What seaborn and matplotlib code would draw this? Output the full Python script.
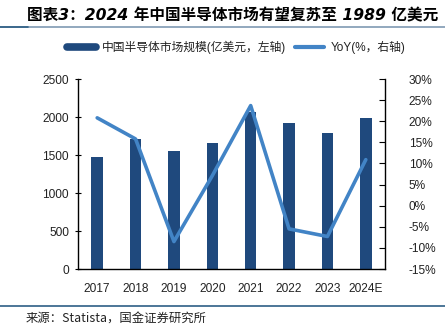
import numpy as np
import pandas as pd
import matplotlib
matplotlib.use("Agg")
import matplotlib.pyplot as plt
from matplotlib.lines import Line2D
from matplotlib.ticker import MultipleLocator, FuncFormatter, FixedLocator
import seaborn as sns

# ---- data ----
years = ["2017", "2018", "2019", "2020", "2021", "2022", "2023", "2024E"]
market_size = [1470, 1715, 1552, 1663, 2060, 1927, 1785, 1989]   # 亿美元
yoy = [20.8, 15.8, -8.5, 7.1, 23.7, -5.5, -7.3, 10.9]            # %

title_text = "图表3：2024 年中国半导体市场有望复苏至 1989 亿美元"
bar_label = "中国半导体市场规模(亿美元，左轴)"
line_label = "YoY(%，右轴)"
source_text = "来源：Statista，国金证券研究所"

# ---- style ----
sns.set_theme(style="white")
plt.rcParams["font.family"] = ["Liberation Sans", "Noto Sans CJK SC"]
plt.rcParams["axes.unicode_minus"] = False

BAR_COLOR = "#1F497D"
LINE_COLOR = "#4284C6"

df = pd.DataFrame({"year": years, "size": market_size, "yoy": yoy})

W, H = 445, 326
fig = plt.figure(figsize=(W / 100, H / 100), dpi=100)
ax = fig.add_axes([78 / W, 1 - 269 / H, (385 - 78) / W, (269 - 79) / H])

sns.barplot(data=df, x="year", y="size", color=BAR_COLOR, width=0.3,
            saturation=1, ax=ax, linewidth=0)
ax.set_ylim(0, 2500)
ax.yaxis.set_major_locator(MultipleLocator(500))

ax2 = ax.twinx()
sns.lineplot(data=df, x="year", y="yoy", color=LINE_COLOR, linewidth=2.6,
             ax=ax2, sort=False)
ax2.set_ylim(-15, 30)
ax2.yaxis.set_major_locator(MultipleLocator(5))
ax2.yaxis.set_major_formatter(FuncFormatter(lambda v, p: f"{v:.0f}%"))
ax.set_xlim(-0.5, len(years) - 0.5)

for a in (ax, ax2):
    a.set_xlabel("")
    a.set_ylabel("")
    a.spines["top"].set_visible(False)
    for s in ("left", "right", "bottom"):
        a.spines[s].set_color("black")
        a.spines[s].set_linewidth(1.0)

ax.spines["right"].set_visible(False)
ax2.spines["left"].set_visible(False)
ax2.spines["bottom"].set_visible(False)

# category boundary ticks on the x axis
ax.xaxis.set_minor_locator(FixedLocator(np.arange(-0.5, len(years), 1.0)))
ax.tick_params(axis="x", which="major", length=0, labelsize=8.6, pad=10,
               colors="#222222")
ax.tick_params(axis="x", which="minor", direction="in", length=4,
               width=0.8, color="black")
ax.tick_params(axis="y", direction="inout", length=5, width=0.8,
               labelsize=8.6, pad=4, colors="#222222")
ax.tick_params(axis="y", color="black")
ax2.tick_params(axis="y", direction="in", length=4, width=0.8,
                labelsize=8.6, pad=17, colors="#222222")
ax2.tick_params(axis="y", color="black")

# legend above the plot
handles = [Line2D([0], [0], color=BAR_COLOR, linewidth=5.5),
           Line2D([0], [0], color=LINE_COLOR, linewidth=3)]
fig.legend(handles, [bar_label, line_label], loc="center",
           bbox_to_anchor=(236 / W, 1 - 47 / H), ncol=2, frameon=False,
           fontsize=8.5, handlelength=2.5, handletextpad=0.5,
           columnspacing=0.7, labelcolor="#222222")

# title, fitted to span from x=27 to x=440 px
title = fig.text(27 / W, 1 - 16 / H, title_text, fontsize=11.3,
                 fontweight="bold", fontstyle="italic",
                 family=["DejaVu Sans", "Noto Sans CJK SC"],
                 ha="left", va="center", color="black")
renderer = fig.canvas.get_renderer()
tw = title.get_window_extent(renderer).width
title.set_fontsize(11.3 * (440 - 27) / tw)

# rules
fig.add_artist(Line2D([0, 1], [1 - 27 / H, 1 - 27 / H],
                      transform=fig.transFigure, color="#7F9AB3", linewidth=1.2))
fig.add_artist(Line2D([0, 28 / W], [1 - 27 / H, 1 - 27 / H],
                      transform=fig.transFigure, color="#2E5F85", linewidth=1.2))
fig.add_artist(Line2D([0, 1], [1 - 306 / H, 1 - 306 / H],
                      transform=fig.transFigure, color="#2E5F85", linewidth=1.2))
fig.text(26 / W, 1 - 319 / H, source_text, fontsize=8.9,
         family=["Noto Sans CJK SC"], ha="left", va="center", color="#222222")

fig.savefig("out.png", dpi=100)
